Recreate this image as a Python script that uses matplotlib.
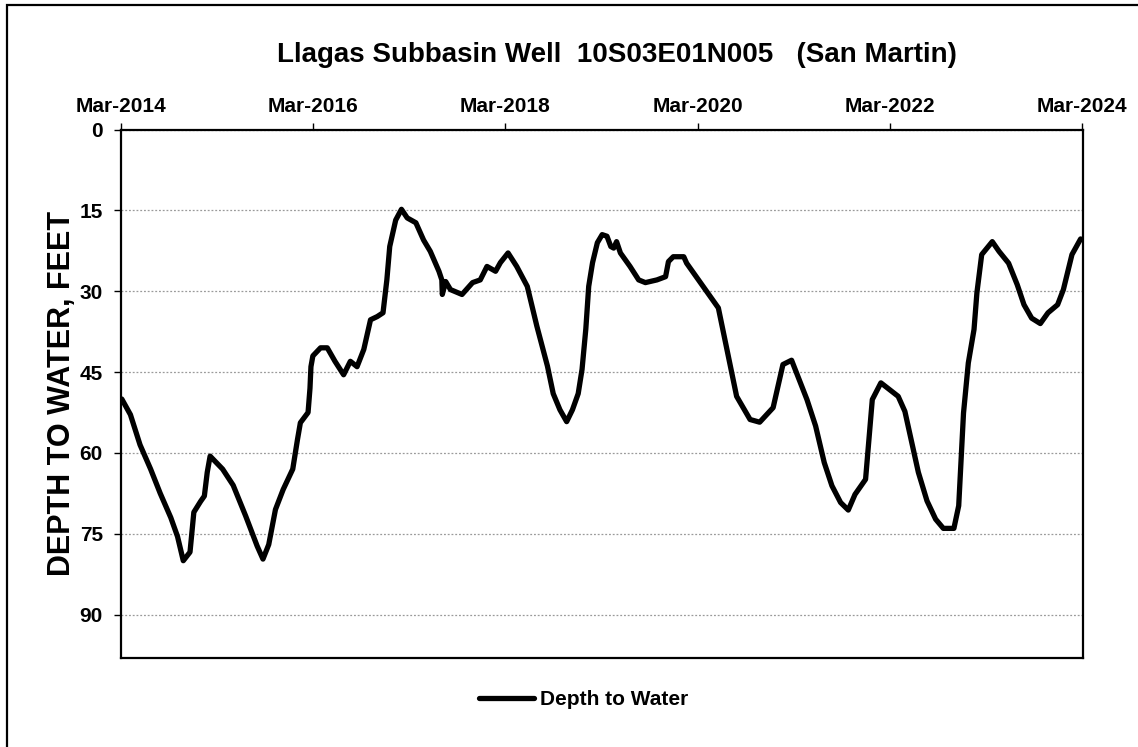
import matplotlib
matplotlib.use("Agg")
import matplotlib.pyplot as plt
import matplotlib.dates as mdates
from matplotlib.patches import Rectangle
from datetime import datetime, timedelta

plt.rcParams['font.family'] = ['Liberation Sans', 'DejaVu Sans']
plt.rcParams['font.weight'] = 'bold'

# decimal year of each reading
years = [2014.17, 2014.26, 2014.36, 2014.47, 2014.57, 2014.68, 2014.75, 2014.81,
         2014.88, 2014.92, 2014.99, 2015.03, 2015.06, 2015.09, 2015.22, 2015.33,
         2015.46, 2015.58, 2015.64, 2015.70, 2015.77, 2015.85, 2015.95, 2016.00,
         2016.03, 2016.11, 2016.13, 2016.14, 2016.16, 2016.24, 2016.31, 2016.39,
         2016.48, 2016.55, 2016.62, 2016.69, 2016.76, 2016.83, 2016.89, 2016.93,
         2016.96, 2017.02, 2017.08, 2017.14, 2017.23, 2017.31, 2017.38, 2017.47,
         2017.50, 2017.505, 2017.54, 2017.59, 2017.71, 2017.82, 2017.90, 2017.97,
         2018.06, 2018.11, 2018.19, 2018.28, 2018.39, 2018.49, 2018.60, 2018.66,
         2018.73, 2018.80, 2018.86, 2018.92, 2018.96, 2019.00, 2019.03, 2019.07,
         2019.12, 2019.17, 2019.22, 2019.26, 2019.29, 2019.32, 2019.36, 2019.46,
         2019.55, 2019.62, 2019.74, 2019.83, 2019.86, 2019.91, 2020.02, 2020.05,
         2020.38, 2020.57, 2020.71, 2020.81, 2020.95, 2021.05, 2021.14, 2021.30,
         2021.39, 2021.48, 2021.56, 2021.65, 2021.73, 2021.80, 2021.91, 2021.98,
         2022.07, 2022.15, 2022.25, 2022.32, 2022.46, 2022.55, 2022.64, 2022.72,
         2022.83, 2022.88, 2022.93, 2022.98, 2023.04, 2023.07, 2023.12, 2023.23,
         2023.30, 2023.40, 2023.49, 2023.56, 2023.64, 2023.73, 2023.81, 2023.91,
         2023.97, 2024.06, 2024.15]

depth = [50.0, 52.9, 58.5, 63.0, 67.5, 72.0, 75.5, 80.0,
         78.4, 71.0, 69.0, 68.0, 63.6, 60.6, 63.0, 66.0,
         71.7, 77.3, 79.7, 77.0, 70.5, 66.8, 63.0, 57.5,
         54.4, 52.5, 48.0, 44.0, 42.0, 40.5, 40.5, 43.0,
         45.5, 43.0, 44.0, 40.8, 35.3, 34.7, 34.0, 27.9,
         21.7, 16.8, 14.8, 16.4, 17.3, 20.5, 22.6, 26.3,
         27.9, 30.6, 28.2, 29.7, 30.6, 28.4, 27.9, 25.4,
         26.3, 24.7, 22.9, 25.4, 29.1, 36.5, 43.9, 49.0,
         52.0, 54.2, 52.0, 49.0, 44.5, 37.0, 29.1, 24.7,
         21.0, 19.5, 19.8, 21.7, 22.0, 20.8, 22.9, 25.4,
         27.9, 28.4, 27.9, 27.3, 24.5, 23.6, 23.6, 24.8,
         33.1, 49.5, 53.8, 54.3, 51.6, 43.6, 42.8, 50.1,
         55.0, 61.8, 66.1, 69.2, 70.6, 67.7, 64.9, 50.1,
         47.0, 48.1, 49.5, 52.3, 63.6, 68.9, 72.3, 74.0,
         74.0, 69.8, 52.6, 43.3, 37.1, 30.3, 23.2, 20.8,
         22.6, 24.8, 28.8, 32.5, 35.0, 36.0, 34.0, 32.5,
         29.7, 23.2, 20.3]

y_ticks = [0, 15, 30, 45, 60, 75, 90]


def to_date(y):
    yr = int(y)
    return datetime(yr, 1, 1) + timedelta(days=(y - yr) * 365.25)


dates = [to_date(y) for y in years]

fig = plt.figure(figsize=(11.38, 7.47), dpi=100)
ax = fig.add_axes([0.1063, 0.1195, 0.8454, 0.7071])

ax.plot(dates, depth, color='black', lw=3.8, solid_joinstyle='round',
        solid_capstyle='round', label='Depth to Water')

ax.set_ylim(98, 0)
ax.set_yticks(y_ticks)
ax.set_xlim(datetime(2014, 3, 1), datetime(2024, 3, 5))
ax.xaxis.set_major_locator(mdates.YearLocator(base=2, month=3, day=1))
ax.xaxis.set_major_formatter(mdates.DateFormatter('%b-%Y'))
ax.xaxis.tick_top()

ax.grid(axis='y', color='#9a9a9a', linestyle=(0, (1.5, 1.5)), linewidth=0.9)
ax.grid(axis='x', visible=False)
for s in ax.spines.values():
    s.set_linewidth(1.6)
ax.tick_params(axis='both', labelsize=15, length=5, width=1)
ax.tick_params(axis='y', pad=8)
ax.tick_params(axis='x', pad=5)
for lbl in ax.get_xticklabels() + ax.get_yticklabels():
    lbl.set_fontweight('bold')

ax.set_ylabel('DEPTH TO WATER, FEET', fontsize=22, fontweight='bold', labelpad=2)

fig.text(0.542, 0.927, 'Llagas Subbasin Well  10S03E01N005   (San Martin)',
         fontsize=20, fontweight='bold', ha='center', va='center')

ax.legend(loc='center', bbox_to_anchor=(0.513, 0.063), bbox_transform=fig.transFigure,
          frameon=False, handlelength=2.6, handletextpad=0.3,
          prop={'weight': 'bold', 'size': 15})

# outer chart frame, only left and top edges fall inside the picture
fig.add_artist(Rectangle((7 / 1138, -0.5), 2.0, 1.5 - 5 / 747,
                         transform=fig.transFigure, fill=False,
                         edgecolor='black', linewidth=1.6))

fig.savefig('out.png', dpi=100)
